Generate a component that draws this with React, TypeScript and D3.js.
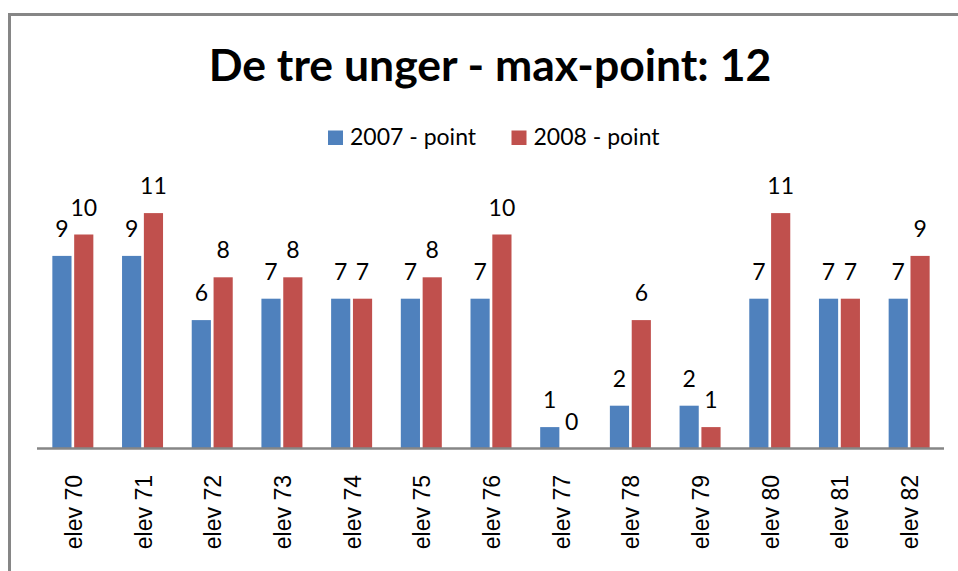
import React from "react";
import * as d3 from "d3";

const categories = ["elev 70","elev 71","elev 72","elev 73","elev 74","elev 75","elev 76","elev 77","elev 78","elev 79","elev 80","elev 81","elev 82"];
const series2007 = [9, 9, 6, 7, 7, 7, 7, 1, 2, 2, 7, 7, 7];
const series2008 = [10, 11, 8, 8, 7, 8, 10, 0, 6, 1, 11, 7, 9];
const seriesNames = ["2007 - point", "2008 - point"];
const colors = ["#4F81BD", "#C0504D"];
const title = "De tre unger - max-point: 12";

export default function App() {
  const W = 958, H = 571;
  const x = d3.scaleBand<string>().domain(categories).range([38, 944]).padding(0);
  const inner = d3.scaleBand<number>().domain([0, 1]).range([0, 41]).paddingInner(5 / 41);
  const y = d3.scaleLinear().domain([0, 12]).range([448.5, 191.7]);
  const bw = x.bandwidth();
  const allSeries = [series2007, series2008];
  const num = "Lato, 'Open Sans', sans-serif";
  return (
    <svg width={W} height={H} style={{ position: "absolute", left: 0, top: 0, background: "#fff" }}>
      <path d={`M9.5,${H} V14.5 H${W}`} fill="none" stroke="#868686" strokeWidth={3} />
      <text x={490} y={81} textAnchor="middle" fontFamily={num} fontWeight="bold" fontSize={44.5} fill="#000">{title}</text>
      {seriesNames.map((s, i) => {
        const lx = i === 0 ? 328 : 511.5;
        return (
          <g key={s}>
            <rect x={lx} y={130.5} width={15} height={14.5} fill={colors[i]} />
            <text x={lx + 22} y={144.5} fontFamily={num} fontSize={23} fill="#000">{s}</text>
          </g>
        );
      })}
      {categories.map((c, ci) => {
        const gx = (x(c) as number) + (bw - 41) / 2;
        return (
          <g key={c}>
            {allSeries.map((vals, si) => {
              const v = vals[ci];
              const bx = gx + (inner(si) as number);
              const w = inner.bandwidth();
              return (
                <g key={si}>
                  <rect x={bx} y={y(v)} width={w} height={y(0) - y(v)} fill={colors[si]} />
                  <text x={bx + w / 2} y={y(v) - 19} textAnchor="middle" fontFamily={num} fontSize={23} fill="#000">{v}</text>
                </g>
              );
            })}
            <text transform={`translate(${(x(c) as number) + bw / 2 + 9},475) rotate(-90)`} textAnchor="end" fontFamily="'Liberation Sans', Arial, sans-serif" fontSize={23} fill="#000">{c}</text>
          </g>
        );
      })}
      <line x1={37} x2={944} y1={y(0)} y2={y(0)} stroke="#868686" strokeWidth={2.5} />
    </svg>
  );
}
